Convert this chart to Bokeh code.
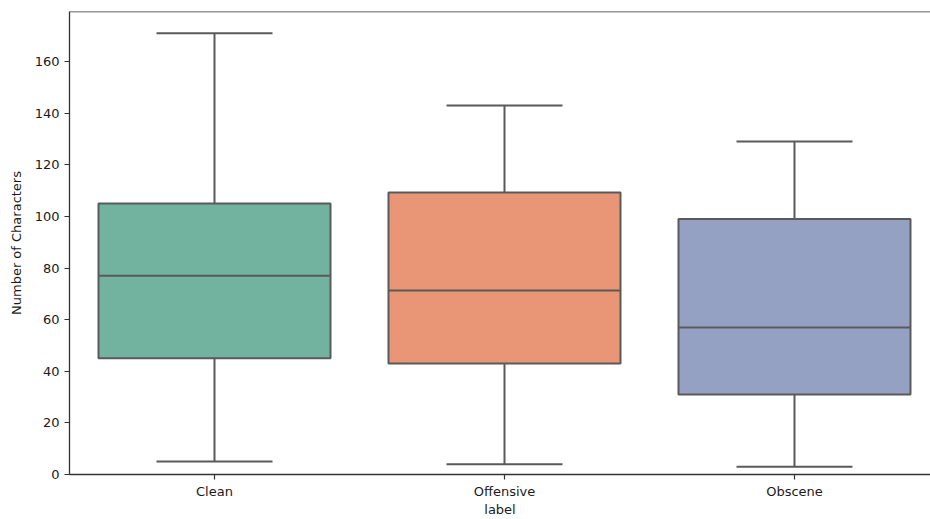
from bokeh.plotting import figure
from bokeh.models import Range1d, FixedTicker, ColumnDataSource, Span
from bokeh.embed import file_html
from bokeh.resources import INLINE

categories = ["Clean", "Offensive", "Obscene"]
lower_whisker = [5, 4, 3]
q1 = [45, 43, 31]
median = [77, 71.3, 57]
q3 = [105, 109.3, 99]
upper_whisker = [171, 143, 129]
colors = ["#71b39f", "#e89676", "#95a1c3"]
y_ticks = [0, 20, 40, 60, 80, 100, 120, 140, 160]

xs = list(range(len(categories)))
box_w = 0.8
cap_w = 0.4
lc = "#5a5a5a"
lw = 2

src = ColumnDataSource(dict(
    x=xs, q1=q1, q3=q3, med=median, lo=lower_whisker, hi=upper_whisker, color=colors,
    bl=[x - box_w / 2 for x in xs], br=[x + box_w / 2 for x in xs],
    cl=[x - cap_w / 2 for x in xs], cr=[x + cap_w / 2 for x in xs],
))

p = figure(width=930, height=519, output_backend="svg", toolbar_location=None,
           x_range=Range1d(-0.5, 2.469), y_range=Range1d(0, 179.4),
           min_border_left=69, min_border_right=0, min_border_top=11, min_border_bottom=45)
p.outline_line_color = None
p.xgrid.visible = False
p.ygrid.visible = False

# whiskers
p.segment(x0="x", y0="lo", x1="x", y1="q1", source=src, line_color=lc, line_width=lw)
p.segment(x0="x", y0="q3", x1="x", y1="hi", source=src, line_color=lc, line_width=lw)
p.segment(x0="cl", y0="lo", x1="cr", y1="lo", source=src, line_color=lc, line_width=lw)
p.segment(x0="cl", y0="hi", x1="cr", y1="hi", source=src, line_color=lc, line_width=lw)
# boxes
p.quad(left="bl", right="br", bottom="q1", top="q3", source=src, fill_color="color",
       line_color=lc, line_width=lw)
p.segment(x0="bl", y0="med", x1="br", y1="med", source=src, line_color=lc, line_width=lw)

top = Span(location=179.4, dimension="width", line_color="#333333", line_width=1.3)
p.add_layout(top)

font = "DejaVu Sans"
p.xaxis.ticker = FixedTicker(ticks=xs)
p.xaxis.major_label_overrides = {x: c for x, c in zip(xs, categories)}
p.yaxis.ticker = FixedTicker(ticks=y_ticks)
p.xaxis.axis_label = "label"
p.yaxis.axis_label = "Number of Characters"
for ax in (p.xaxis, p.yaxis):
    ax.axis_line_color = "#333333"
    ax.axis_line_width = 1.3
    ax.major_tick_line_color = "#333333"
    ax.major_tick_line_width = 1.2
    ax.major_tick_out = 5
    ax.major_tick_in = 0
    ax.minor_tick_line_color = None
    ax.major_label_text_font = font
    ax.major_label_text_font_size = "13px"
    ax.major_label_text_color = "#1a1a1a"
    ax.axis_label_text_font = font
    ax.axis_label_text_font_size = "13px"
    ax.axis_label_text_font_style = "normal"
    ax.axis_label_text_color = "#1a1a1a"
p.xaxis.major_label_standoff = 4
p.xaxis.axis_label_standoff = 0
p.yaxis.major_label_standoff = 5
p.yaxis.axis_label_standoff = 8

open("out.html", "w").write(file_html(p, INLINE))
